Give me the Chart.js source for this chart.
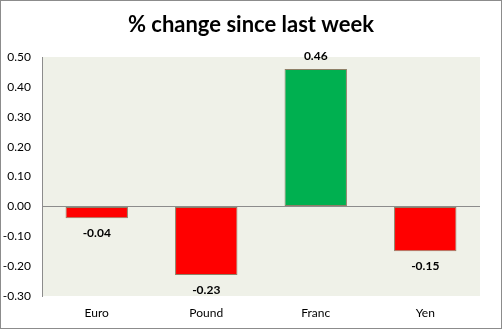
<!DOCTYPE html>
<html>
<head>
<meta charset="utf-8">
<script src="https://cdn.jsdelivr.net/npm/chart.js@4.4.1/dist/chart.umd.min.js"></script>
<style>
  html, body { margin: 0; padding: 0; background: #fff; }
  #wrap { position: relative; width: 502px; height: 329px; }
</style>
</head>
<body>
<div id="wrap"><canvas id="c"></canvas></div>
<script>
// chart data
const currencies = ['Euro', 'Pound', 'Franc', 'Yen'];
const weeklyChange = [-0.04, -0.23, 0.46, -0.15];
const yTicks = [-0.3, 0.5, 0.1]; // min, max, step
const chartTitle = '% change since last week';

const RED = '#FF0000';
const GREEN = '#00B050';
const FONT = 'Lato, "Open Sans", sans-serif';

// background, outer frame, plot area fill and centred title
const frameBg = {
  id: 'frameBg',
  beforeDraw(chart) {
    const { ctx, chartArea: a, width, height } = chart;
    ctx.save();
    ctx.fillStyle = '#fff';
    ctx.fillRect(0, 0, width, height);
    ctx.fillStyle = '#EFF1E8';
    ctx.fillRect(a.left, a.top, a.right - a.left, a.bottom - a.top);
    ctx.strokeStyle = '#8c8c8c';
    ctx.lineWidth = 1;
    ctx.strokeRect(0.5, 0.5, width - 1, height - 1);
    ctx.font = 'bold 22px ' + FONT;
    ctx.fillStyle = '#000';
    ctx.textAlign = 'center';
    ctx.textBaseline = 'middle';
    ctx.fillText(chartTitle, width / 2, 25);
    ctx.restore();
  }
};

// value labels above / below each bar
const valueLabels = {
  id: 'valueLabels',
  afterDatasetsDraw(chart) {
    const { ctx } = chart;
    const meta = chart.getDatasetMeta(0);
    ctx.save();
    ctx.font = 'bold 12px ' + FONT;
    ctx.fillStyle = '#000';
    ctx.textAlign = 'center';
    ctx.textBaseline = 'middle';
    meta.data.forEach((bar, i) => {
      const v = weeklyChange[i];
      const y = v >= 0 ? bar.y - 13 : bar.y + 15;
      ctx.fillText(v.toFixed(2), bar.x, y);
    });
    ctx.restore();
  }
};

new Chart(document.getElementById('c'), {
  type: 'bar',
  data: {
    labels: currencies,
    datasets: [{
      data: weeklyChange,
      backgroundColor: weeklyChange.map(v => v >= 0 ? GREEN : RED),
      borderColor: 'rgba(110,90,60,0.75)',
      borderWidth: 1,
      borderSkipped: false,
      barPercentage: 0.57,
      categoryPercentage: 1
    }]
  },
  plugins: [frameBg, valueLabels],
  options: {
    responsive: true,
    maintainAspectRatio: false,
    animation: false,
    layout: { padding: { left: 0, right: 22, top: 57, bottom: 0 } },
    plugins: {
      legend: { display: false },
      tooltip: { enabled: false },
      title: { display: false }
    },
    scales: {
      x: {
        grid: { display: false, drawTicks: false },
        border: { display: false },
        ticks: { color: '#000', font: { family: FONT, size: 12 }, padding: 10 },
        afterFit: s => { s.height = 33; }
      },
      y: {
        min: yTicks[0],
        max: yTicks[1],
        ticks: {
          stepSize: yTicks[2],
          color: '#000',
          font: { family: FONT, size: 12 },
          padding: 11,
          callback: v => (Math.abs(v) < 1e-9 ? 0 : v).toFixed(2)
        },
        grid: {
          drawTicks: false,
          color: ctx => Math.abs(ctx.tick.value) < 1e-9 ? '#8c8c8c' : 'transparent'
        },
        border: { display: true, color: '#8c8c8c' },
        afterFit: s => { s.width = 42; }
      }
    }
  }
});
</script>
</body>
</html>
